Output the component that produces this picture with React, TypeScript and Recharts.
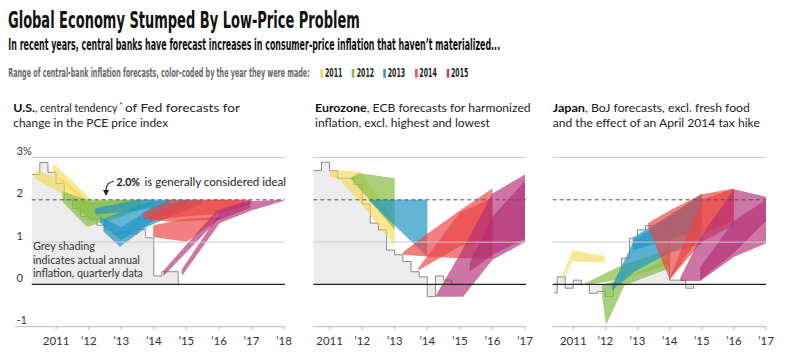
import React, { useLayoutEffect, useRef, useState } from 'react'
import { ComposedChart, Area, XAxis, YAxis, ReferenceLine } from 'recharts'

type Band = [number, number, number][] // [x, low, high]
type Step = [number, number][] // [quarter, value]

const NARROW = "'Liberation Sans Narrow', 'DejaVu Sans Condensed', Roboto, sans-serif"
const BODY = "Lato, 'Open Sans', sans-serif"

const legendYears = ['2011', '2012', '2013', '2014', '2015']
const swatchColors = ['#f2d85a', '#86bc4a', '#2f9cca', '#ec5656', '#b8437f']
const bandColors = ['#f3d84e', '#84bd45', '#2196c4', '#ec4444', '#b22d74']
const bandOpacity = [0.6, 0.7, 0.7, 0.68, 0.65]

const yTicks = [-1, 0, 1, 2, 3]
const usYears = [2011, 2012, 2013, 2014, 2015, 2016, 2017, 2018]
const ezYears = [2011, 2012, 2013, 2014, 2015, 2016, 2017]

// actual inflation, quarterly (grey step)
const usActual: Step = [
  [2010.25, 2.6], [2010.5, 2.88], [2010.75, 2.65], [2011.0, 2.39], [2011.25, 2.0], [2011.5, 1.8],
  [2011.75, 1.6], [2012.0, 1.55], [2012.25, 1.4], [2012.5, 1.3], [2012.75, 1.2], [2013.0, 1.25],
  [2013.25, 1.2], [2013.5, 1.3], [2013.75, 1.1], [2014.0, 0.2], [2014.25, 0.3], [2014.5, 0.3],
  [2014.75, 0.3], [2014.75, 0],
]
const euActual: Step = [
  [2010.5, 2.69], [2010.75, 2.89], [2011.0, 2.69], [2011.25, 2.51], [2011.5, 2.51], [2011.75, 2.36],
  [2012.0, 1.9], [2012.25, 1.45], [2012.5, 1.29], [2012.75, 0.81], [2013.0, 0.7], [2013.25, 0.54],
  [2013.5, 0.3], [2013.75, 0.18], [2014.0, -0.29], [2014.25, 0.2], [2014.5, 0.1], [2014.75, 0.1],
  [2014.75, 0],
]
const jpActual: Step = [
  [2010.4, -0.2], [2010.5, 0.18], [2010.75, -0.09], [2011.0, 0.1], [2011.25, 0.0], [2011.5, -0.21],
  [2011.75, -0.17], [2012.0, -0.29], [2012.25, 0.02], [2012.5, 0.62], [2012.75, 1.09], [2013.0, 1.29],
  [2013.25, 1.39], [2013.5, 1.39], [2013.75, 1.39], [2014.0, 0.1], [2014.25, 0.1], [2014.5, -0.09],
  [2014.75, 0],
]

// forecast ranges, grouped by the year they were made (2011..2015)
const usBands: Band[][] = [
  [
    [[2010.35, 2.5, 2.7], [2011.2, 2.13, 2.5], [2011.95, 1.8, 2.0]],
    [[2010.9, 2.6, 2.86], [2011.25, 2.35, 2.63], [2012.05, 1.85, 2.02]],
  ],
  [
    [[2011.2, 1.95, 2.2], [2011.94, 1.36, 2.0], [2013.0, 1.6, 2.0], [2013.6, 1.8, 2.0]],
    [[2011.5, 1.85, 2.0], [2012.1, 1.5, 1.95], [2013.3, 1.7, 2.0], [2014.0, 1.9, 2.0]],
  ],
  [
    [[2012.45, 1.25, 1.55], [2012.96, 0.89, 1.7], [2013.8, 1.36, 1.95], [2014.5, 1.6, 2.0], [2015.5, 1.9, 2.0]],
    [[2012.35, 1.45, 1.6], [2013.0, 1.05, 1.35], [2014.0, 1.5, 1.85], [2015.0, 1.85, 2.0]],
    [[2012.2, 1.65, 1.8], [2013.5, 1.75, 2.0], [2014.5, 1.9, 2.0]],
  ],
  [
    [[2013.68, 1.55, 1.7], [2014.5, 1.48, 2.0], [2015.7, 1.52, 2.0], [2016.1, 1.7, 2.0], [2017.0, 1.9, 2.0]],
    [[2013.9, 1.5, 1.65], [2014.8, 1.6, 1.95], [2015.8, 1.65, 2.0], [2016.8, 1.9, 2.0]],
    [[2013.98, 1.12, 1.4], [2015.01, 1.01, 1.55], [2016.03, 1.56, 1.6]],
  ],
  [
    [[2014.3, 0.2, 0.33], [2015.93, 1.5, 1.75], [2016.95, 1.8, 2.0]],
    [[2014.86, 0.2, 0.35], [2016.03, 1.45, 1.7], [2017.0, 1.75, 1.97], [2017.97, 1.97, 2.0]],
  ],
]
const euBands: Band[][] = [
  [[[2011.0, 2.55, 2.72], [2011.3, 2.5, 2.7], [2012.0, 1.88, 2.66], [2013.0, 0.9, 1.5]]],
  [[[2011.66, 2.48, 2.52], [2011.87, 2.3, 2.62], [2012.22, 2.0, 2.6], [2013.0, 1.28, 2.51]]],
  [[[2012.22, 1.97, 2.0], [2014.0, 0.65, 2.0]]],
  [
    [[2013.25, 0.7, 0.76], [2014.0, 0.66, 1.2], [2015.0, 0.62, 1.75], [2016.0, 0.62, 2.27]],
    [[2013.72, 0.33, 0.38], [2015.0, 0.9, 1.7], [2016.0, 1.05, 2.05]],
  ],
  [
    [[2014.27, -0.29, -0.25], [2015.1, -0.29, 0.85], [2016.0, 0.58, 2.15], [2017.0, 1.0, 2.6]],
    [[2015.3, 0.3, 0.5], [2016.0, 0.7, 1.6], [2017.0, 1.08, 2.45]],
  ],
]
const jpBands: Band[][] = [
  [[[2010.62, 0.05, 0.12], [2010.98, 0.55, 0.81], [2011.98, 0.51, 0.67]]],
  [
    [[2011.36, -0.02, 0.02], [2012.5, 0.12, 0.45], [2013.85, 0.45, 0.78], [2014.0, 0.45, 0.8]],
    [[2011.9, -0.3, -0.02], [2012.02, -0.96, 0.02], [2012.6, -0.02, 0.15], [2014.0, 0.38, 0.6]],
  ],
  [
    [[2012.2, -0.15, -0.05], [2012.9, 0.3, 1.05], [2014.0, 0.75, 1.6], [2015.0, 0.95, 2.15]],
    [[2012.85, 0.8, 1.1], [2015.0, 1.3, 2.1]],
  ],
  [
    [[2013.33, 1.35, 1.45], [2014.0, 0.12, 1.75], [2015.0, 1.0, 2.13], [2016.0, 1.4, 2.27]],
    [[2014.0, 0.1, 0.15], [2015.0, 1.2, 2.0], [2016.0, 1.5, 2.27]],
  ],
  [
    [[2014.33, 0.08, 0.15], [2014.95, 0.08, 1.1], [2016.0, 0.65, 2.25], [2017.0, 0.97, 2.07]],
    [[2014.95, 0.1, 0.4], [2016.0, 0.75, 1.5], [2017.0, 1.5, 2.0]],
  ],
]

const fmtYear = (v: number) => (v === 2011 ? '2011' : '\u2019' + String(v).slice(2))

function UsTick(props: any) {
  const { y, payload } = props
  const v = payload.value
  return (
    <g>
      {v === -1 && <line x1={15} x2={31.7} y1={y} y2={y} stroke="#bbb" />}
      <text x={16.5} y={y - 2.5} fontSize={11} fill="#333" fontFamily={BODY}>
        {v === 3 ? '3%' : String(v)}
      </text>
    </g>
  )
}

function Panel({ left, width, mLeft, mRight, domain, ticks, actual, bands, showY }: any) {
  const actualData = (actual as Step).map(([x, v]) => ({ x, v }))
  return (
    <div style={{ position: 'absolute', left, top: 140 }}>
      <ComposedChart width={width} height={215} margin={{ top: 17.5, right: mRight, bottom: 8.3, left: mLeft }}>
        <XAxis
          type="number"
          dataKey="x"
          domain={domain}
          ticks={ticks}
          interval={0}
          allowDataOverflow
          tickFormatter={fmtYear}
          tick={{ fontSize: 11.5, fill: '#333', fontFamily: BODY }}
          axisLine={{ stroke: '#bbb' }}
          tickLine={{ stroke: '#bbb' }}
          tickSize={3}
          tickMargin={7}
          height={20}
        />
        <YAxis
          type="number"
          domain={[-1, 3]}
          ticks={yTicks}
          interval={0}
          allowDataOverflow
          hide={!showY}
          width={31.7}
          axisLine={false}
          tickLine={false}
          tick={<UsTick />}
        />
        <ReferenceLine y={3} stroke="#ccc" />
        <ReferenceLine y={1} stroke="#ccc" />
        <Area
          data={actualData}
          dataKey="v"
          type="stepAfter"
          baseValue={0}
          stroke="#8a8a8a"
          strokeWidth={1}
          fill="#ececec"
          fillOpacity={1}
          dot={false}
          activeDot={false}
          isAnimationActive={false}
        />
        {(bands as Band[][]).flatMap((group, gi) =>
          group.map((b, bi) => (
            <Area
              key={`${gi}-${bi}`}
              data={b.map(([x, lo, hi]) => ({ x, r: [lo, hi] }))}
              dataKey="r"
              type="linear"
              stroke="none"
              fill={bandColors[gi]}
              fillOpacity={bandOpacity[gi]}
              dot={false}
              activeDot={false}
              isAnimationActive={false}
            />
          ))
        )}
        <ReferenceLine y={2} stroke="#555" strokeDasharray="4 3" />
        <ReferenceLine y={0} stroke="#222" strokeWidth={1.2} />
      </ComposedChart>
    </div>
  )
}

// text squeezed horizontally to the width it has in the reference
function T({ x, y, w, size, weight = 400, fill = '#222', family = BODY, children }: any) {
  const ref = useRef<SVGTextElement>(null)
  const [sx, setSx] = useState(1)
  useLayoutEffect(() => {
    const len = ref.current ? ref.current.getComputedTextLength() : 0
    if (len > 0) setSx(w / len)
  }, [w, children])
  return (
    <text
      ref={ref}
      x={0}
      y={0}
      transform={`translate(${x} ${y}) scale(${sx} 1)`}
      fontSize={size}
      fontWeight={weight}
      fill={fill}
      fontFamily={family}
    >
      {children}
    </text>
  )
}

export default function App() {
  const swatchX = [320.3, 351.7, 383.3, 415, 446.7]
  const yearX = [325, 356.7, 387.7, 419.3, 451]
  return (
    <div style={{ position: 'absolute', left: 0, top: 0, width: 800, height: 355, background: '#fff', overflow: 'hidden' }}>
      <Panel left={0} width={300} mLeft={0} mRight={15} domain={[2010.25, 2018.03]} ticks={usYears} actual={usActual} bands={usBands} showY />
      <Panel left={300} width={240} mLeft={13.3} mRight={14} domain={[2010.5, 2017.03]} ticks={ezYears} actual={euActual} bands={euBands} />
      <Panel left={540} width={260} mLeft={12.7} mRight={34} domain={[2010.36, 2017.0]} ticks={ezYears} actual={jpActual} bands={jpBands} />

      <svg width={800} height={355} style={{ position: 'absolute', left: 0, top: 0, pointerEvents: 'none' }}>
        <T x={8} y={28.3} w={352} size={23.5} weight={700} fill="#111" family={NARROW}>Global Economy Stumped By Low-Price Problem</T>
        <T x={8.3} y={50} w={492} size={15} weight={700} fill="#111" family={NARROW}>
          In recent years, central banks have forecast increases in consumer-price inflation that haven’t materialized...
        </T>
        <T x={8.3} y={77.3} w={302} size={12.5} weight={700} fill="#6a6a6a" family={NARROW}>
          Range of central-bank inflation forecasts, color-coded by the year they were made:
        </T>
        {legendYears.map((yr, i) => (
          <g key={yr}>
            <rect x={swatchX[i]} y={69} width={2.6} height={8.7} fill={swatchColors[i]} />
            <T x={yearX[i]} y={77.3} w={17.5} size={12.5} weight={700} fill="#222" family={NARROW}>{yr}</T>
          </g>
        ))}

        <T x={13.3} y={112.3} w={21.7} size={12} weight={700} fill="#111">U.S.</T>
        <T x={35} y={112.3} w={82.5} size={12}>, central tendency</T>
        <text x={119.6} y={107.5} fontSize={7} fill="#222" fontFamily={BODY}>*</text>
        <T x={125} y={112.3} w={115} size={12}>of Fed forecasts for</T>
        <T x={13.3} y={126.7} w={155} size={12}>change in the PCE price index</T>

        <T x={315} y={112.3} w={51.7} size={12} weight={700} fill="#111">Eurozone</T>
        <T x={366.7} y={112.3} w={164} size={12}>, ECB forecasts for harmonized</T>
        <T x={315} y={126.7} w={175} size={12}>inflation, excl. highest and lowest</T>

        <T x={552.7} y={112.3} w={32.3} size={12} weight={700} fill="#111">Japan</T>
        <T x={585} y={112.3} w={165} size={12}>, BoJ forecasts, excl. fresh food</T>
        <T x={552.7} y={126.7} w={207.3} size={12}>and the effect of an April 2014 tax hike</T>

        <T x={116.5} y={186} w={23.5} size={12} weight={700} fill="#111">2.0%</T>
        <T x={144.5} y={186} w={141.8} size={12}>is generally considered ideal</T>
        <path d="M 114 181.5 Q 106 181.5 106 191" fill="none" stroke="#222" strokeWidth={1.1} />
        <path d="M 103 190 L 109 190 L 106 196 Z" fill="#222" />

        <T x={33} y={250} w={62} size={12} fill="#333">Grey shading</T>
        <T x={33} y={263.5} w={107} size={12} fill="#333">indicates actual annual</T>
        <T x={33} y={276.7} w={110} size={12} fill="#333">inflation, quarterly data</T>
      </svg>
    </div>
  )
}
